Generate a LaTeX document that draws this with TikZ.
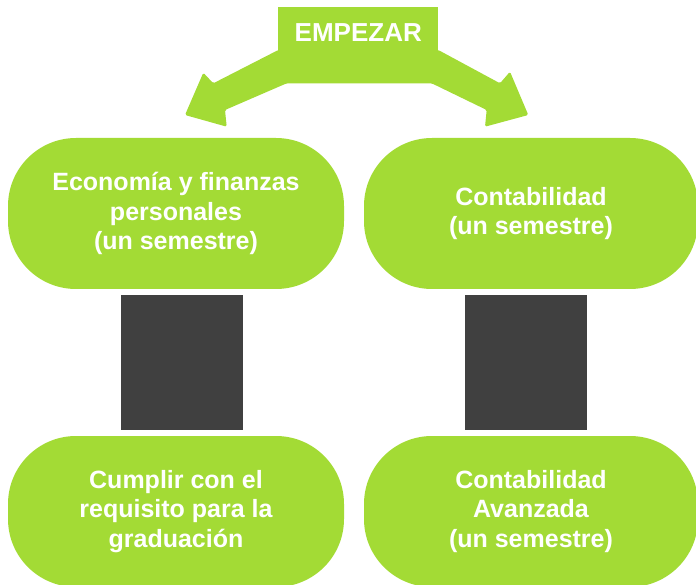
\documentclass[tikz,border=0pt]{standalone}
\usepackage{fontspec}
\setmainfont{Liberation Sans}
\definecolor{lgreen}{HTML}{A3DB35}
\definecolor{dgray}{HTML}{404040}
\begin{document}
\begin{tikzpicture}[x=1pt,y=-1pt,
  gbox/.style={fill=lgreen, rounded corners=68pt, minimum width=#1, minimum height=151pt,
    inner sep=0pt, text=white, font=\fontsize{25}{29.5}\selectfont\bfseries, align=center},
  gbox/.default=336pt,
  dbox/.style={fill=dgray, minimum width=122pt, minimum height=135pt, inner sep=0pt},
  startbox/.style={fill=lgreen, minimum width=160pt, minimum height=51.6pt, inner sep=0pt,
    text=white, font=\fontsize{26}{30}\selectfont\bfseries}]
\useasboundingbox (0,0) rectangle (696,585);
% start box and split arrow
\node[startbox] (start) at (358.3,32.5) {EMPEZAR};
\fill[lgreen, rounded corners=1.5pt] (278.3,50) -- (213.3,83.3) -- (203.3,72.7) -- (185,115)
  -- (226.7,126.7) -- (225,110) -- (286.7,83.3) -- (431.7,83.3) -- (486.7,110)
  -- (485,126.7) -- (528.3,115) -- (510,71.7) -- (500,83.3) -- (438.3,50) -- cycle;
\node[startbox] at (start) {EMPEZAR};
% green boxes
\node[gbox] (econ) at (176,213.5) {Economía y finanzas\\personales\\(un semestre)};
\node[gbox=334pt] (cont) at (531,213.5) {Contabilidad\\(un semestre)};
\node[gbox] (grad) at (176,511.5) {Cumplir con el\\requisito para la\\graduación};
\node[gbox=334pt] (adv) at (531,511.5) {Contabilidad\\Avanzada\\(un semestre)};
% dark blocks
\node[dbox] (d1) at (182,362.5) {};
\node[dbox] (d2) at (526,362.5) {};
\end{tikzpicture}
\end{document}
